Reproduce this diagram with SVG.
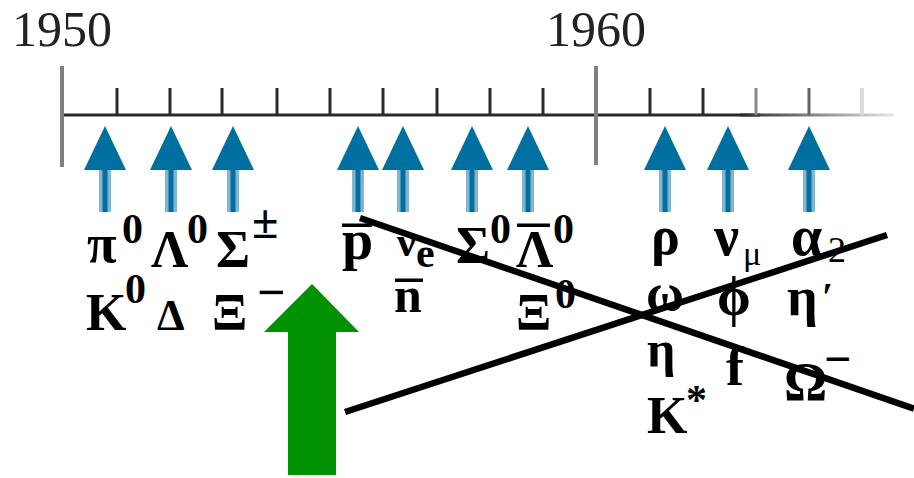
<svg xmlns="http://www.w3.org/2000/svg" xmlns:xlink="http://www.w3.org/1999/xlink" width="914" height="478" viewBox="0 0 914 478">
<style>
.yr{font-family:"Liberation Serif",serif;font-size:50px;fill:#222;text-anchor:middle}
.g{font-family:"Liberation Serif",serif;font-weight:bold;fill:#000}
.n{font-weight:normal}
.tk{stroke:#2a2a2a;stroke-width:3}
.mj{stroke:#808080;stroke-width:4}
.cross{stroke:#000;stroke-width:6.5;stroke-linecap:butt}
.ol{fill:#000}
</style>
<defs>
<linearGradient id="fade" gradientUnits="userSpaceOnUse" x1="740" y1="0" x2="894" y2="0">
<stop offset="0" stop-color="#2a2a2a"/>
<stop offset="1" stop-color="#e8e8e8"/>
</linearGradient>
<g id="barrow">
<polygon points="0,126 -21,170 21,170" fill="#0070a0"/>
<rect x="-6" y="170" width="12" height="42" fill="#80b6d2"/>
<rect x="-2.5" y="170" width="5" height="42" fill="#0070a0"/>
</g>
</defs>
<rect width="914" height="478" fill="#fff"/>
<g id="timeline">
<text class="yr" x="62" y="46">1950</text>
<text class="yr" x="596" y="46">1960</text>
<line x1="60" y1="115" x2="760" y2="115" stroke="#2a2a2a" stroke-width="3"/>
<line x1="740" y1="115" x2="894" y2="115" stroke="url(#fade)" stroke-width="3"/>
<line class="mj" x1="62" y1="66" x2="62" y2="167"/>
<line class="mj" x1="596" y1="66" x2="596" y2="165"/>
<line class="tk" x1="117" y1="88" x2="117" y2="115"/>
<line class="tk" x1="170" y1="88" x2="170" y2="115"/>
<line class="tk" x1="222" y1="88" x2="222" y2="115"/>
<line class="tk" x1="277" y1="88" x2="277" y2="115"/>
<line class="tk" x1="330" y1="88" x2="330" y2="115"/>
<line class="tk" x1="383" y1="88" x2="383" y2="115"/>
<line class="tk" x1="437" y1="88" x2="437" y2="115"/>
<line class="tk" x1="490" y1="88" x2="490" y2="115"/>
<line class="tk" x1="543" y1="88" x2="543" y2="115"/>
<line class="tk" x1="650" y1="88" x2="650" y2="115"/>
<line class="tk" x1="703" y1="88" x2="703" y2="115" stroke="#777"/>
<line x1="756" y1="88" x2="756" y2="115" stroke="#888" stroke-width="3"/>
<line x1="809" y1="88" x2="809" y2="115" stroke="#666" stroke-width="3"/>
<line x1="862" y1="88" x2="862" y2="115" stroke="#ddd" stroke-width="4"/>
</g>
<g id="discoveries">
<use xlink:href="#barrow" x="105"/>
<use xlink:href="#barrow" x="171"/>
<use xlink:href="#barrow" x="233"/>
<use xlink:href="#barrow" x="358"/>
<use xlink:href="#barrow" x="403"/>
<use xlink:href="#barrow" x="472"/>
<use xlink:href="#barrow" x="528"/>
<use xlink:href="#barrow" x="665"/>
<use xlink:href="#barrow" x="728"/>
<use xlink:href="#barrow" x="809"/>
</g>
<g id="particles-left">
<text class="g" x="87" y="262" font-size="54">π</text>
<text class="g" x="122" y="243" font-size="42">0</text>
<text class="g" x="151" y="267" font-size="52">Λ</text>
<text class="g" x="187" y="243" font-size="42">0</text>
<text class="g" x="216" y="267" font-size="52">Σ</text>
<text class="g" x="252" y="238" font-size="48">±</text>
<text class="g" x="86" y="330" font-size="52">K</text>
<text class="g" x="125" y="303" font-size="42">0</text>
<text class="g" x="157" y="330" font-size="44">Δ</text>
<text class="g" x="212" y="330" font-size="52">Ξ</text>
<text class="g" x="257" y="309" font-size="50">−</text>
</g>
<g id="particles-mid">
<text class="g" x="342" y="259" font-size="56">p</text>
<rect class="ol" x="342" y="223.5" width="30" height="3.5"/>
<text class="g" x="397" y="256" font-size="42">ν</text>
<text class="g" x="416" y="267" font-size="42">e</text>
<text class="g" x="394" y="312" font-size="50">n</text>
<rect class="ol" x="395" y="278.5" width="28" height="3.5"/>
<text class="g" x="456" y="263" font-size="52">Σ</text>
<text class="g" x="490" y="243" font-size="42">0</text>
<text class="g" x="516" y="267" font-size="52">Λ</text>
<rect class="ol" x="517" y="223.5" width="33" height="3.5"/>
<text class="g" x="553" y="243" font-size="42">0</text>
<text class="g" x="516" y="330" font-size="52">Ξ</text>
<text class="g" x="555" y="308" font-size="42">0</text>
</g>
<g id="particles-right">
<text class="g" x="651" y="254" font-size="54">ρ</text>
<text class="g" x="714" y="255" font-size="56">ν</text>
<text class="g n" x="743" y="265" font-size="34">μ</text>
<text class="g" x="791" y="255" font-size="56">α</text>
<text class="g n" x="828" y="262" font-size="36">2</text>
<text class="g" x="646" y="310" font-size="52">ω</text>
<text class="g" x="717" y="315" font-size="54">ϕ</text>
<text class="g" x="787" y="315" font-size="54">η</text>
<text class="g" x="822" y="310" font-size="40">′</text>
<text class="g" x="647" y="366" font-size="50">η</text>
<text class="g" x="726" y="385" font-size="54">f</text>
<text class="g" x="784" y="400" font-size="54">Ω</text>
<text class="g" x="824" y="375" font-size="48">−</text>
<text class="g" x="647" y="433" font-size="52">K</text>
<text class="g" x="686" y="414" font-size="42">*</text>
</g>
<g id="connectors">
<line class="cross" x1="360" y1="218" x2="914" y2="408.6"/>
<line class="cross" x1="345" y1="412" x2="887" y2="235"/>
</g>
<g id="green-arrow">
<polygon points="312,284 359,332 336,332 336,475 288,475 288,332 264,332" fill="#009100"/>
</g>
</svg>
